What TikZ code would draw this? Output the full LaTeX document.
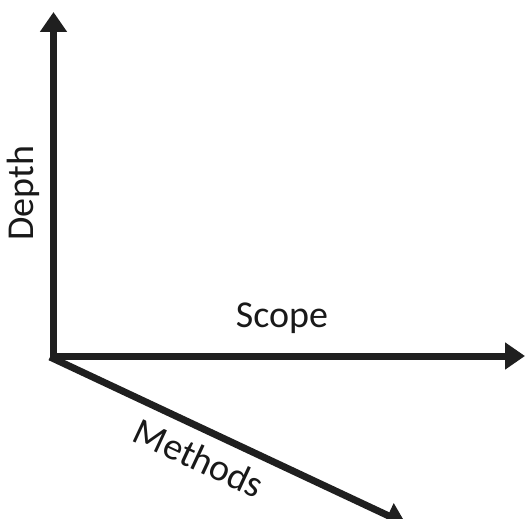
\documentclass[tikz,border=0pt]{standalone}
\usepackage{fontspec}
\setmainfont{Carlito}
\usetikzlibrary{arrows.meta}
\begin{document}
\begin{tikzpicture}[x=1pt,y=-1pt,
  axis/.style={line width=7pt,draw=black!88,-{Triangle[length=20pt,width=26pt]}},
  lbl/.style={font=\fontsize{38}{44}\selectfont,text=black!90,inner sep=0pt}]
\useasboundingbox (0,0) rectangle (525,519);
\coordinate (ov) at (53.5,360);
\coordinate (oh) at (50,356);
\coordinate (od) at (50,357);
\coordinate (top) at (53.5,12);
\coordinate (right) at (525,356);
\coordinate (diag) at (406,524);
\draw[axis] (ov) -- (top);
\draw[axis] (oh) -- (right);
\draw[axis] (od) -- (diag);
\node[lbl,rotate=90] (depth) at (23,193) {Depth};
\node[lbl] (scope) at (282,318) {Scope};
\node[lbl,rotate=-25] (methods) at (199,458) {Methods};
\end{tikzpicture}
\end{document}
